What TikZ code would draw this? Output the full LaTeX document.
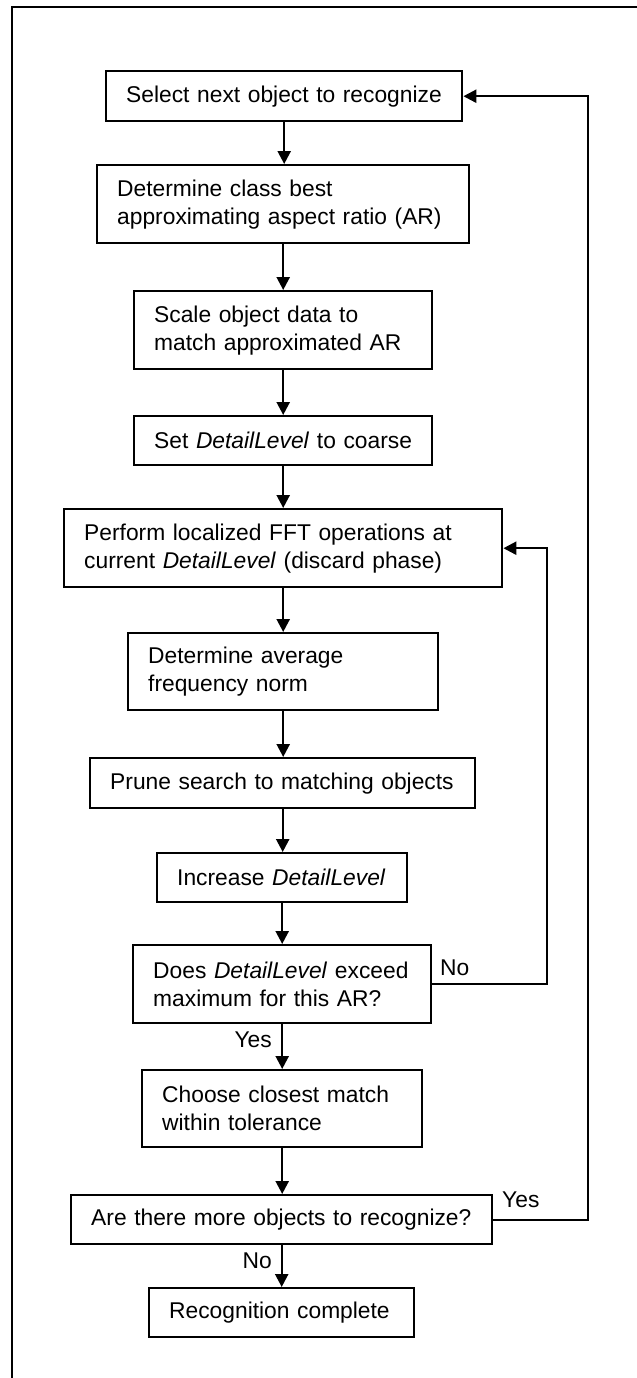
\documentclass[tikz,border=0pt]{standalone}
\usepackage{fontspec}
\setmainfont{Liberation Sans}
\usetikzlibrary{arrows.meta}

\begin{document}
\begin{tikzpicture}[x=0.5pt,y=-0.5pt,
  line width=1.2pt,
  stepbox/.style={draw, rectangle, anchor=north west, inner xsep=10pt, inner ysep=0pt,
    align=left, font=\fontsize{11.4}{14}\selectfont},
  flow/.style={-{Triangle[length=6.5pt,width=6.5pt]}},
  lbl/.style={font=\fontsize{11.4}{14}\selectfont, inner sep=0pt}]

% page extent and frame
\useasboundingbox (0,0) rectangle (637,1378);
\draw[line width=1.3pt] (12,1378) -- (12,7) -- (637,7);

% process box: name, left, top, width, height (px), text
\def\mkbox#1#2#3#4#5#6{%
  \pgfmathsetlengthmacro{\boxw}{#4*0.5pt}%
  \pgfmathsetlengthmacro{\boxh}{#5*0.5pt}%
  \pgfmathsetlengthmacro{\boxt}{#4*0.5pt-20pt}%
  \node[stepbox, minimum width=\boxw, minimum height=\boxh, text width=\boxt]
    (#1) at (#2,#3) {#6};}

\mkbox{b1}{105}{70}{356}{50}{\mbox{Select next object to recognize}}
\mkbox{b2}{96}{164}{372}{78}{\mbox{Determine class best}\\\mbox{approximating aspect ratio (AR)}}
\mkbox{b3}{133}{290}{298}{78}{\mbox{Scale object data to}\\\mbox{match approximated AR}}
\mkbox{b4}{133}{415}{298}{49}{\mbox{Set \textit{DetailLevel} to coarse}}
\mkbox{b5}{63}{508}{438}{78}{\mbox{Perform localized FFT operations at}\\\mbox{current \textit{DetailLevel} (discard phase)}}
\mkbox{b6}{127}{632}{310}{77}{\mbox{Determine average}\\\mbox{frequency norm}}
\mkbox{b7}{89}{757}{385}{50}{\mbox{Prune search to matching objects}}
\mkbox{b8}{156}{852}{250}{49}{\mbox{Increase \textit{DetailLevel}}}
\mkbox{b9}{132}{944}{298}{78}{\mbox{Does \textit{DetailLevel} exceed}\\\mbox{maximum for this AR?}}
\mkbox{b10}{141}{1069}{280}{77}{\mbox{Choose closest match}\\\mbox{within tolerance}}
\mkbox{b11}{70}{1194}{421}{49}{\mbox{Are there more objects to recognize?}}
\mkbox{b12}{148}{1287}{265}{49}{\mbox{Recognition complete}}

% straight flow downwards
\foreach \a/\b in {b1/b2,b2/b3,b3/b4,b4/b5,b5/b6,b6/b7,b7/b8,b8/b9,b9/b10,b10/b11,b11/b12}
  \draw[flow] (\a.south) -- (\a.south |- \b.north);

% loop back while detail can still increase
\coordinate (noR) at (547,983);
\draw[flow] (b9.east) -- (b9.east -| noR) -- (noR |- b5.east) -- (b5.east);
% loop back to the next object
\coordinate (yesR) at (588,1218);
\draw[flow] (b11.east) -- (b11.east -| yesR) -- (yesR |- b1.east) -- (b1.east);

% branch labels
\node[lbl, anchor=west] (lNo1) at (439,968) {No};
\node[lbl, anchor=east] (lYes1) at (273,1040) {Yes};
\node[lbl, anchor=west] (lYes2) at (501,1200) {Yes};
\node[lbl, anchor=east] (lNo2) at (273,1261) {No};
\end{tikzpicture}
\end{document}
